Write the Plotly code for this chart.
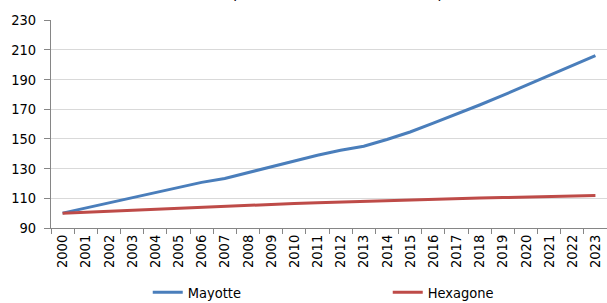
import plotly.graph_objects as go

years = [str(y) for y in range(2000, 2024)]
mayotte = [100, 103.5, 107.0, 110.4, 113.8, 117.3, 120.7, 123.3, 127.2, 131.0,
           135.2, 139.0, 142.3, 145.0, 149.6, 154.6, 160.6, 166.5, 172.8, 179.2,
           185.8, 192.3, 199.0, 206.0]
hexagone = [100, 100.7, 101.4, 102.1, 102.8, 103.5, 104.2, 104.9, 105.4, 106.0,
            106.5, 107.0, 107.5, 108.1, 108.7, 109.1, 109.5, 109.8, 110.2, 110.5,
            110.8, 111.1, 111.5, 111.8]
yticks = [90, 110, 130, 150, 170, 190, 210, 230]
title_text = "(indice base 100 en 2000)"

font = "DejaVu Sans Condensed, DejaVu Sans, Verdana, sans-serif"
fs = 14.5

fig = go.Figure()
fig.add_trace(go.Scatter(x=years, y=mayotte, mode="lines", name="Mayotte",
                         line=dict(color="#4a7ebb", width=3)))
fig.add_trace(go.Scatter(x=years, y=hexagone, mode="lines", name="Hexagone",
                         line=dict(color="#be4b48", width=3)))

fig.update_layout(
    width=607, height=303,
    margin=dict(l=51, r=0, t=20, b=75, autoexpand=False),
    paper_bgcolor="white", plot_bgcolor="white",
    font=dict(family=font, size=fs, color="#000000"),
    showlegend=True,
    legend=dict(orientation="h", x=0.174, xanchor="left", y=-0.232, yanchor="top",
                entrywidth=195, entrywidthmode="pixels",
                font=dict(size=fs), itemwidth=30),
    annotations=[dict(text=title_text, x=0.515, xref="paper", xanchor="center",
                      y=1.074, yref="paper", yanchor="bottom", showarrow=False,
                      font=dict(size=18, family=font, color="#000000"))],
)
fig.update_xaxes(type="category", tickangle=-90, showgrid=False,
                 showline=True, linecolor="#868686", linewidth=1,
                 ticks="outside", ticklen=5, tickcolor="#868686",
                 tickson="boundaries", tickfont=dict(size=fs),
                 range=[-0.5, 23.5], automargin=False)
fig.update_yaxes(range=[90, 230], tickvals=yticks, showgrid=True,
                 gridcolor="#d9d9d9", gridwidth=1,
                 showline=True, linecolor="#868686", linewidth=1,
                 ticks="outside", ticklen=6, tickcolor="#868686",
                 ticklabelstandoff=5,
                 tickfont=dict(size=fs), zeroline=False, automargin=False)

fig.write_html("out.html", config={"displayModeBar": False},
               post_script="document.body.style.margin='0';document.body.style.overflow='hidden';")
